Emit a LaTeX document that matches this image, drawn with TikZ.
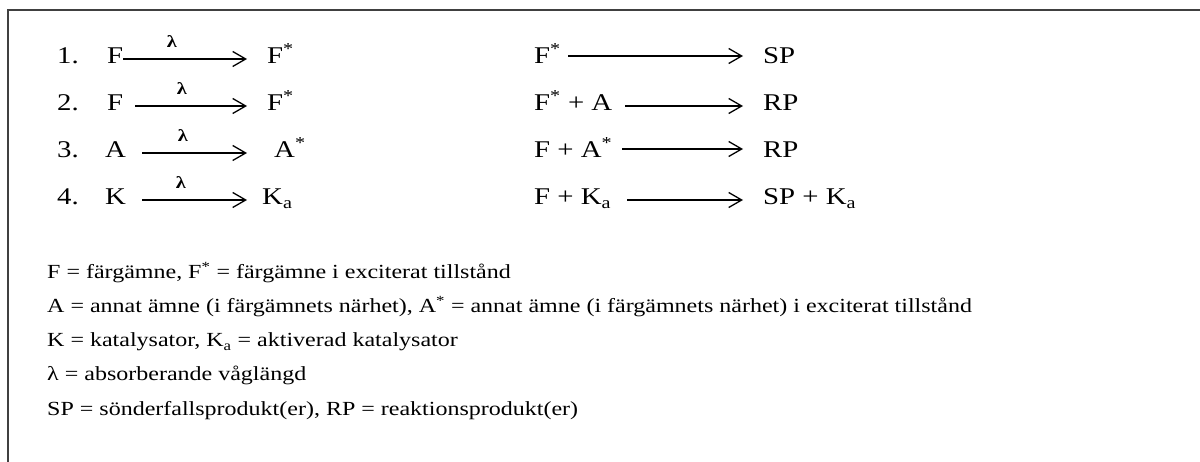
\documentclass[tikz,border=0pt]{standalone}
\usepackage{fontspec}
\setmainfont[FakeStretch=1.2]{Liberation Serif}
\usetikzlibrary{arrows.meta}

\tikzset{
  frameline/.style={draw=black!75, line width=1.4pt},
  chem/.style={anchor=base west, inner sep=0pt, font=\fontsize{24}{24}\selectfont},
  legend/.style={anchor=base west, inner sep=0pt, font=\fontsize{20}{20}\selectfont},
  lam/.style={inner sep=0pt, font=\fontsize{17}{17}\selectfont\bfseries},
  rxn/.style={line width=1.3pt, -{Straight Barb[length=13pt,width=15pt,line width=1.3pt]}}
}

\newcommand{\ex}{\textsuperscript{*}}
\newcommand{\ka}{K\textsubscript{a}}

\begin{document}
\begin{tikzpicture}[x=1pt, y=-1pt]
  \useasboundingbox (0,0) rectangle (1200,462);

  % open frame: top and left edges only
  \coordinate (fTR) at (1200,10);
  \coordinate (fTL) at (8,10);
  \coordinate (fBL) at (8,462);
  \draw[frameline] (fTR) -- (fTL) -- (fBL);

  % ---- row 1 ----
  \node[chem] (n1)  at (57,64)  {1.};
  \node[chem] (l1a) at (107,64) {F};
  \node[chem] (l1b) at (267,64) {F\ex};
  \coordinate (la1s) at (123,59); \coordinate (la1e) at (247,59);
  \draw[rxn] (la1s) -- (la1e);
  \node[lam] (lam1) at (172,42) {λ};
  \node[chem] (r1a) at (534,64) {F\ex};
  \node[chem] (r1b) at (763,64) {SP};
  \coordinate (ra1s) at (568,56); \coordinate (ra1e) at (743,56);
  \draw[rxn] (ra1s) -- (ra1e);

  % ---- row 2 ----
  \node[chem] (n2)  at (57,111)  {2.};
  \node[chem] (l2a) at (107,111) {F};
  \node[chem] (l2b) at (267,111) {F\ex};
  \coordinate (la2s) at (135,106); \coordinate (la2e) at (247,106);
  \draw[rxn] (la2s) -- (la2e);
  \node[lam] (lam2) at (182,89) {λ};
  \node[chem] (r2a) at (534,111) {F\ex{} + A};
  \node[chem] (r2b) at (763,111) {RP};
  \coordinate (ra2s) at (625,106); \coordinate (ra2e) at (743,106);
  \draw[rxn] (ra2s) -- (ra2e);

  % ---- row 3 ----
  \node[chem] (n3)  at (57,158)  {3.};
  \node[chem] (l3a) at (105,158) {A};
  \node[chem] (l3b) at (274,158) {A\ex};
  \coordinate (la3s) at (142,153); \coordinate (la3e) at (247,153);
  \draw[rxn] (la3s) -- (la3e);
  \node[lam] (lam3) at (183,136) {λ};
  \node[chem] (r3a) at (534,158) {F + A\ex};
  \node[chem] (r3b) at (763,158) {RP};
  \coordinate (ra3s) at (622,149); \coordinate (ra3e) at (743,149);
  \draw[rxn] (ra3s) -- (ra3e);

  % ---- row 4 ----
  \node[chem] (n4)  at (57,205)  {4.};
  \node[chem] (l4a) at (105,205) {K};
  \node[chem] (l4b) at (262,205) {\ka};
  \coordinate (la4s) at (142,200); \coordinate (la4e) at (247,200);
  \draw[rxn] (la4s) -- (la4e);
  \node[lam] (lam4) at (181,183) {λ};
  \node[chem] (r4a) at (534,205) {F + \ka};
  \node[chem] (r4b) at (763,205) {SP + \ka};
  \coordinate (ra4s) at (627,200); \coordinate (ra4e) at (743,200);
  \draw[rxn] (ra4s) -- (ra4e);

  % ---- legend ----
  \node[legend] (g1) at (47,279) {F = färgämne, F\ex{} = färgämne i exciterat tillstånd};
  \node[legend] (g2) at (47,313) {A = annat ämne (i färgämnets närhet), A\ex{} = annat ämne (i färgämnets närhet) i exciterat tillstånd};
  \node[legend] (g3) at (47,347) {K = katalysator, \ka{} = aktiverad katalysator};
  \node[legend] (g4) at (47,381) {λ = absorberande våglängd};
  \node[legend] (g5) at (47,415) {SP = sönderfallsprodukt(er), RP = reaktionsprodukt(er)};
\end{tikzpicture}
\end{document}
